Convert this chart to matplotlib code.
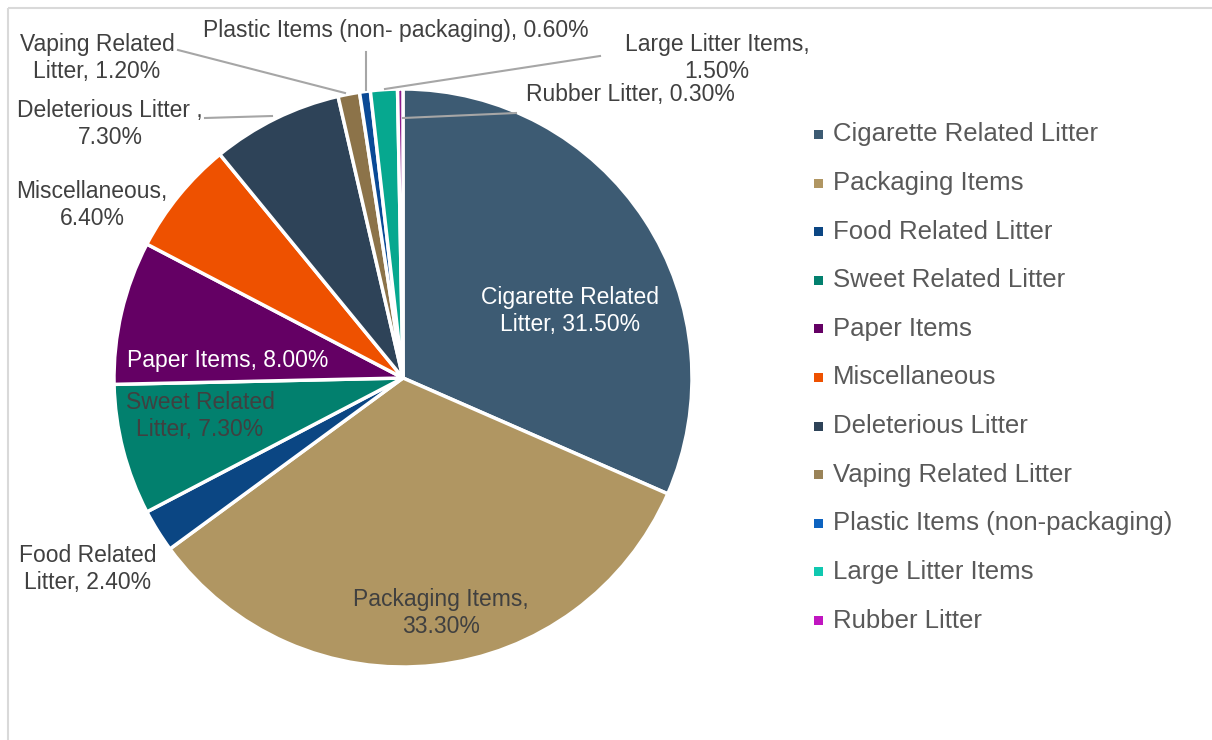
import matplotlib.pyplot as plt
from matplotlib.patches import Rectangle

plt.rcParams['font.family'] = ['Liberation Sans', 'DejaVu Sans']

# Categories and shares (%)
categories = ['Cigarette Related Litter', 'Packaging Items', 'Food Related Litter',
              'Sweet Related Litter', 'Paper Items', 'Miscellaneous',
              'Deleterious Litter', 'Vaping Related Litter',
              'Plastic Items (non-packaging)', 'Large Litter Items', 'Rubber Litter']
shares = [31.5, 33.3, 2.4, 7.3, 8.0, 6.4, 7.3, 1.2, 0.6, 1.5, 0.3]
colors = ['#3d5b73', '#b09662', '#0b4683', '#02806e', '#640064', '#ee5100',
          '#2e4358', '#8c7349', '#0a4a96', '#06a88f', '#8b1a8b']
legend_colors = ['#3d5b73', '#b09662', '#0b4683', '#02806e', '#640064', '#ee5100',
                 '#2e4358', '#9a8358', '#0d63c0', '#10c8b0', '#c015c0']

# label text (shown on/around slices)
label_text = ['Cigarette Related\nLitter, 31.50%', 'Packaging Items,\n33.30%',
              'Food Related\nLitter, 2.40%', 'Sweet Related\nLitter, 7.30%',
              'Paper Items, 8.00%', 'Miscellaneous,\n6.40%',
              'Deleterious Litter ,\n7.30%', 'Vaping Related\nLitter, 1.20%',
              'Plastic Items (non- packaging), 0.60%', 'Large Litter Items,\n1.50%',
              'Rubber Litter, 0.30%']

W, H = 1212, 740
fig = plt.figure(figsize=(W / 100, H / 100), dpi=100)

# pie, drawn in its own square axes so the angles stay standard
cx, cy, r = 403, 378, 289
pax = fig.add_axes([(cx - r) / W, 1 - (cy + r) / H, 2 * r / W, 2 * r / H])
pax.pie(shares, colors=colors, startangle=90, counterclock=False,
        wedgeprops=dict(edgecolor='white', linewidth=2.5))
pax.set_xlim(-1, 1)
pax.set_ylim(-1, 1)
pax.axis('off')

# overlay axes in pixel coords for labels, leaders and legend
ax = fig.add_axes([0, 0, 1, 1])
ax.set_xlim(0, W)
ax.set_ylim(H, 0)
ax.axis('off')

# light frame
ax.add_patch(Rectangle((8, 8), W + 20, H + 20, fill=False, edgecolor='#d9d9d9', linewidth=1.5))

# label positions (pixel coords of text centre) and colours
label_pos = [(570, 311), (441, 613), (88, 569), (200, 416), (228, 361), (92, 205),
             (110, 124), (97, 58), (396, 31), (717, 58), (630, 95)]
label_col = ['white', '#404040', '#404040', '#404040', 'white', '#404040',
             '#404040', '#404040', '#404040', '#404040', '#404040']
for txt, (x, y), c in zip(label_text, label_pos, label_col):
    ax.text(x, y, txt, ha='center', va='center', fontsize=16.5, color=c,
            linespacing=1.25, zorder=5)

# leader lines
leaders = [((205, 118), (272, 116)),
           ((178, 50), (345, 93)),
           ((366, 52), (366, 90)),
           ((600, 56), (385, 89)),
           ((516, 113), (403, 118))]
for (x0, y0), (x1, y1) in leaders:
    ax.plot([x0, x1], [y0, y1], color='#a6a6a6', linewidth=1.5, zorder=4)

# legend
ly0, dy = 134.5, 48.6
for i, (name, c) in enumerate(zip(categories, legend_colors)):
    y = ly0 + i * dy
    ax.add_patch(Rectangle((814, y - 4.5), 9, 9, facecolor=c, edgecolor='none'))
    ax.text(833, y, name, ha='left', va='center', fontsize=18.5, color='#595959')

fig.savefig('out.png', dpi=100)
